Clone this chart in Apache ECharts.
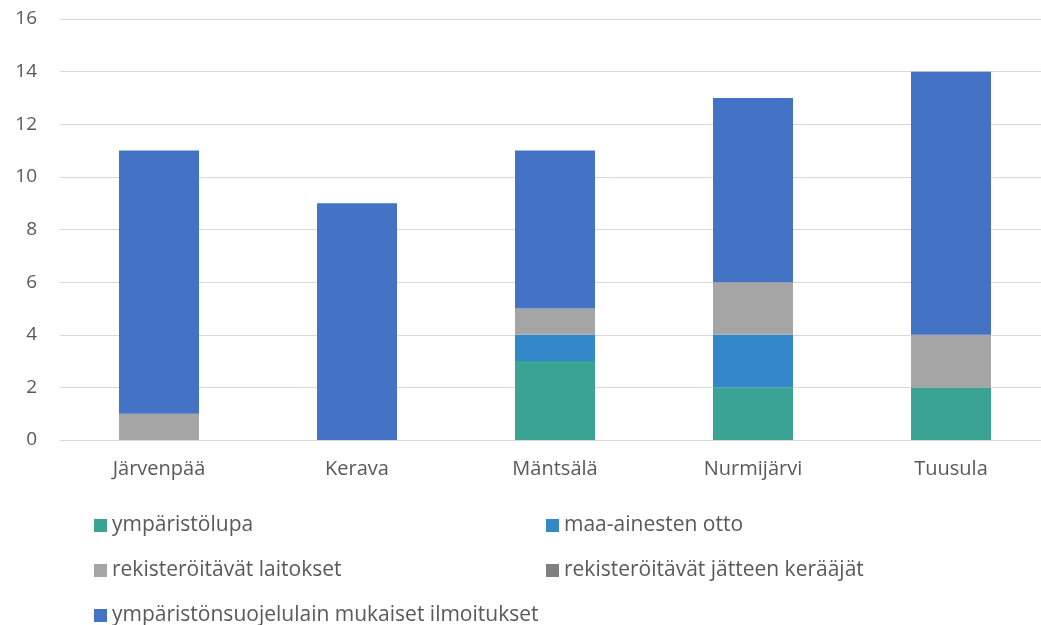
<!DOCTYPE html>
<html>
<head>
    <meta charset="UTF-8">
    <title>Kunnat</title>
    <script src="https://cdn.jsdelivr.net/npm/echarts@6/dist/echarts.min.js"></script>
    <style>
        html, body { margin: 0; padding: 0; background: #fff; }
    </style>
</head>
<body>
<div id="chart" style="width:1041px;height:625px;"></div>

<script>
    var kunnat = ['Järvenpää', 'Kerava', 'Mäntsälä', 'Nurmijärvi', 'Tuusula'];
    var ymparistolupa = [0, 0, 3, 2, 2];
    var maaAinesOtto = [0, 0, 1, 2, 0];
    var rekLaitokset = [1, 0, 1, 2, 2];
    var rekKeraajat = [0, 0, 0, 0, 0];
    var ilmoitukset = [10, 9, 6, 7, 10];

    var nimet = [
        'ympäristölupa',
        'maa-ainesten otto',
        'rekisteröitävät laitokset',
        'rekisteröitävät jätteen kerääjät',
        'ympäristönsuojelulain mukaiset ilmoitukset'
    ];
    var arvot = [ymparistolupa, maaAinesOtto, rekLaitokset, rekKeraajat, ilmoitukset];
    var varit = ['#3AA393', '#3288C8', '#A5A5A5', '#7F7F7F', '#4472C4'];

    var fontti = '"Open Sans", "Noto Sans", sans-serif';

    // legenda kahdessa sarakkeessa kuten alkuperäisessä
    var legendPaikat = [
        {left: 89, top: 510},
        {left: 541, top: 510},
        {left: 89, top: 555},
        {left: 541, top: 555},
        {left: 89, top: 600}
    ];

    var chart = echarts.init(document.getElementById('chart'));
    var option = {
        animation: false,
        color: varit,
        grid: {left: 60, width: 990, top: 19, height: 421, outerBoundsMode: 'none'},
        legend: nimet.map(function (n, i) {
            return {
                data: [n],
                left: legendPaikat[i].left,
                top: legendPaikat[i].top,
                icon: 'rect',
                itemWidth: 13,
                itemHeight: 13,
                textStyle: {color: '#595959', fontSize: 21, fontFamily: fontti}
            };
        }),
        xAxis: {
            type: 'category',
            data: kunnat,
            axisLine: {lineStyle: {color: '#D9D9D9', width: 1}},
            axisTick: {show: false},
            axisLabel: {color: '#595959', fontSize: 20, fontFamily: fontti, margin: 19}
        },
        yAxis: {
            type: 'value',
            min: 0,
            max: 16,
            interval: 2,
            axisLine: {show: false},
            axisTick: {show: false},
            splitLine: {lineStyle: {color: '#D9D9D9', width: 1}},
            axisLabel: {color: '#595959', fontSize: 19, fontFamily: fontti, margin: 23}
        },
        series: nimet.map(function (n, i) {
            return {
                name: n,
                type: 'bar',
                stack: 'yht',
                barWidth: 80,
                data: arvot[i],
                itemStyle: {color: varit[i]}
            };
        })
    };
    chart.setOption(option);
</script>
</body>
</html>
